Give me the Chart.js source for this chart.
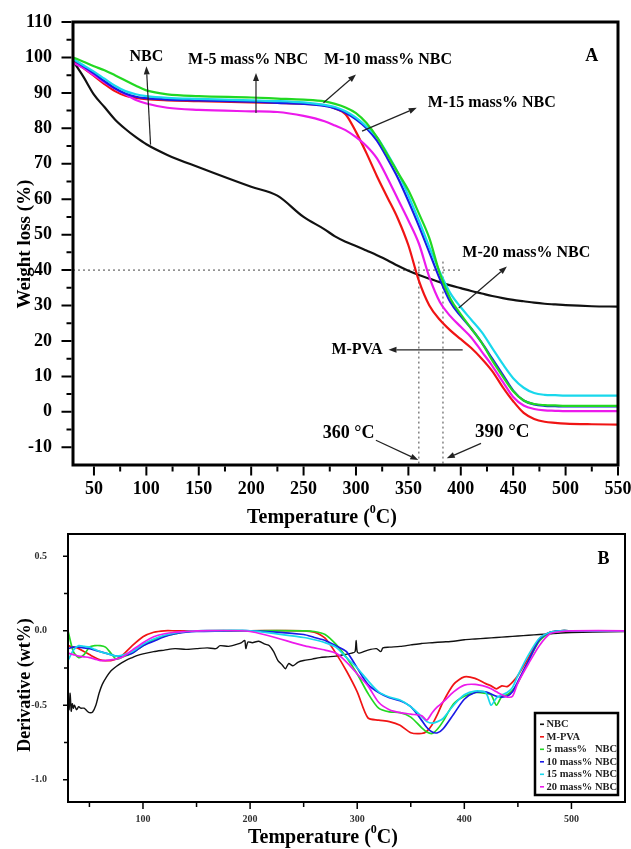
<!DOCTYPE html>
<html>
<head>
<meta charset="utf-8">
<title>TGA / DTG</title>
<script src="https://cdn.jsdelivr.net/npm/chart.js@4.4.1/dist/chart.umd.min.js"></script>
<style>
  body { margin: 0; background: #fff; }
  #wrap { position: relative; width: 631px; height: 849px; }
  canvas { position: absolute; left: 0; }
  #tga { top: 0; }
  #dtg { top: 520px; }
</style>
</head>
<body>
<div id="wrap">
  <canvas id="tga" width="631" height="530"></canvas>
  <canvas id="dtg" width="631" height="329"></canvas>
</div>
<script>
// ---- panel A: weight loss (%) vs temperature ----
var tgaTemps = [30, 40, 50, 60, 70, 80, 90, 100, 120, 150,
  200, 225, 250, 270, 280, 290, 300, 310, 320, 330,
  340, 350, 360, 370, 380, 390, 400, 410, 420, 430,
  440, 450, 460, 470, 480, 490, 500, 525, 550];

var nbcWeight = [99, 94.5, 89.5, 86, 82.5, 79.8, 77.5, 75.5, 72.5, 69,
  63.5, 61, 55, 51.5, 49.5, 48, 46.8, 45.5, 44.2, 42.8,
  41.2, 39.8, 38.6, 37.6, 36.6, 35.7, 34.9, 34.1, 33.4, 32.7,
  32.1, 31.6, 31.2, 30.8, 30.5, 30.3, 30.1, 29.8, 29.7];
var pvaWeight = [99, 97, 94.8, 92.5, 90.5, 89.2, 88.6, 88.2, 87.9, 87.7,
  87.3, 87.2, 86.9, 86.5, 85.6, 84, 79, 73, 66.5, 60.5,
  54.5, 47, 37, 30, 26, 23, 20.5, 18, 15, 11.5,
  7, 3, -0.3, -2, -2.8, -3.1, -3.3, -3.5, -3.6];
var m5Weight = [100, 98.8, 97.5, 96.4, 95, 93.5, 92, 90.7, 89.6, 89.1,
  88.7, 88.4, 88.1, 87.6, 86.9, 85.9, 84.3, 81.5, 77.5, 72.5,
  67.5, 62.5, 56, 49, 39, 32, 27.5, 23.5, 19.5, 14.5,
  10, 5.8, 3.2, 2.2, 1.9, 1.8, 1.7, 1.7, 1.7];
var m10Weight = [99.4, 97.5, 95.5, 93.3, 91.3, 89.8, 88.9, 88.5, 88.1, 87.9,
  87.5, 87.2, 86.9, 86.3, 85.6, 84.4, 82.5, 80, 76.5, 71.5,
  66, 59.5, 52.5, 45, 37.5, 31, 27, 23.5, 19.5, 15,
  10.5, 6, 3.2, 2.1, 1.7, 1.6, 1.5, 1.5, 1.5];
var m15Weight = [99.6, 97.8, 96, 94, 92, 90.5, 89.6, 89.1, 88.6, 88.3,
  87.9, 87.7, 87.3, 86.6, 86, 84.8, 83, 80.5, 77.5, 72.8,
  67.5, 61, 54, 46.5, 39.5, 33.5, 29.5, 26, 22.5, 18,
  13.5, 9.5, 6.8, 5.3, 4.8, 4.7, 4.6, 4.6, 4.6];
var m20Weight = [98.5, 97, 95, 93, 91.2, 89.6, 88, 87, 85.8, 85.2,
  84.8, 84.6, 83.5, 82, 80.8, 79.5, 77.5, 75, 71.5, 66,
  60, 54, 47.5, 38, 31, 27, 24, 21, 17, 13,
  8.5, 4.2, 1.8, 0.8, 0.4, 0.3, 0.2, 0.2, 0.2];

// dotted guides at 40 % and at the two onset temperatures
var guideWeight = 40;
var guideTemps = [360, 383];

var tempTicksA = [50, 100, 150, 200, 250, 300, 350, 400, 450, 500, 550];
var weightTicks = [-10, 0, 10, 20, 30, 40, 50, 60, 70, 80, 90, 100, 110];

// ---- panel B: derivative (wt%) vs temperature ----
var nbcDtgTemps = [30, 31, 32, 33, 34, 35, 36, 38, 40, 42,
  45, 48, 50, 53, 56, 59, 62, 66, 70, 75,
  80, 85, 90, 95, 100, 110, 120, 130, 140, 150,
  160, 168, 172, 180, 188, 192, 195, 196, 198, 202,
  208, 214, 218, 222, 226, 230, 233, 236, 240, 245,
  250, 258, 265, 272, 280, 288, 295, 298, 299, 300,
  302, 310, 318, 322, 324, 330, 340, 350, 360, 370,
  380, 390, 400, 410, 420, 430, 440, 450, 460, 470,
  480, 490, 500, 520, 550];
var nbcDtg = [-0.45, -0.53, -0.42, -0.54, -0.49, -0.52, -0.50, -0.53, -0.51, -0.52,
  -0.52, -0.54, -0.55, -0.545, -0.5, -0.42, -0.36, -0.31, -0.27, -0.24,
  -0.215, -0.195, -0.18, -0.165, -0.155, -0.14, -0.13, -0.12, -0.125, -0.12,
  -0.115, -0.12, -0.1, -0.105, -0.09, -0.08, -0.065, -0.12, -0.075, -0.08,
  -0.07, -0.09, -0.1, -0.14, -0.2, -0.23, -0.255, -0.22, -0.235, -0.21,
  -0.2, -0.19, -0.18, -0.175, -0.17, -0.16, -0.15, -0.14, -0.065, -0.14,
  -0.15, -0.13, -0.12, -0.14, -0.115, -0.11, -0.105, -0.095, -0.085, -0.08,
  -0.075, -0.07, -0.06, -0.055, -0.05, -0.045, -0.04, -0.035, -0.03, -0.025,
  -0.02, -0.015, -0.012, -0.008, -0.005];

var dtgTemps = [30, 35, 40, 45, 50, 55, 60, 65, 70, 75,
  80, 90, 100, 110, 120, 130, 140, 150, 200, 250,
  260, 270, 280, 290, 300, 310, 320, 330, 340, 350,
  360, 365, 370, 375, 380, 390, 400, 410, 420, 425,
  430, 435, 440, 445, 450, 460, 470, 480, 490, 500,
  550];
var pvaDtg = [-0.10, -0.11, -0.12, -0.14, -0.16, -0.18, -0.195, -0.2, -0.2, -0.19,
  -0.17, -0.1, -0.04, -0.01, 0, 0, 0, 0, 0, 0,
  -0.01, -0.05, -0.15, -0.27, -0.41, -0.585, -0.6, -0.61, -0.635, -0.685,
  -0.69, -0.675, -0.63, -0.56, -0.48, -0.36, -0.31, -0.32, -0.355, -0.37,
  -0.39, -0.37, -0.375, -0.345, -0.3, -0.18, -0.055, -0.01, 0, 0,
  0];
var m5Dtg = [0.0, -0.14, -0.18, -0.16, -0.11, -0.1, -0.1, -0.11, -0.15, -0.19,
  -0.18, -0.15, -0.1, -0.06, -0.035, -0.02, -0.005, 0, 0, 0,
  -0.005, -0.025, -0.09, -0.18, -0.29, -0.42, -0.52, -0.545, -0.55, -0.58,
  -0.65, -0.68, -0.69, -0.66, -0.61, -0.49, -0.44, -0.415, -0.42, -0.43,
  -0.5, -0.44, -0.43, -0.4, -0.35, -0.2, -0.07, -0.015, 0, 0,
  0];
var m10Dtg = [-0.12, -0.11, -0.11, -0.115, -0.12, -0.13, -0.14, -0.15, -0.16, -0.17,
  -0.17, -0.15, -0.1, -0.07, -0.04, -0.02, -0.01, -0.005, 0, -0.025,
  -0.045, -0.065, -0.1, -0.14, -0.25, -0.36, -0.415, -0.45, -0.47, -0.51,
  -0.6, -0.65, -0.68, -0.685, -0.66, -0.56, -0.46, -0.415, -0.41, -0.425,
  -0.44, -0.445, -0.44, -0.41, -0.34, -0.2, -0.06, -0.01, 0, 0,
  0];
var m15Dtg = [-0.2, -0.13, -0.1, -0.105, -0.11, -0.125, -0.14, -0.15, -0.16, -0.17,
  -0.165, -0.14, -0.09, -0.055, -0.03, -0.015, -0.005, 0, 0, -0.045,
  -0.06, -0.08, -0.11, -0.18, -0.25, -0.335, -0.41, -0.445, -0.465, -0.51,
  -0.575, -0.61, -0.62, -0.61, -0.59, -0.5, -0.43, -0.405, -0.415, -0.5,
  -0.45, -0.43, -0.415, -0.38, -0.3, -0.16, -0.05, -0.01, 0, 0,
  0];
var m20Dtg = [-0.15, -0.16, -0.17, -0.175, -0.18, -0.19, -0.2, -0.2, -0.195, -0.19,
  -0.18, -0.13, -0.08, -0.04, -0.02, -0.01, -0.005, 0, -0.005, -0.1,
  -0.115, -0.13, -0.15, -0.21, -0.29, -0.37, -0.48, -0.53, -0.55, -0.56,
  -0.57, -0.6, -0.55, -0.51, -0.48, -0.41, -0.365, -0.36, -0.375, -0.39,
  -0.41, -0.43, -0.445, -0.44, -0.35, -0.22, -0.1, -0.02, -0.005, 0,
  0];

var tempTicksB = [100, 200, 300, 400, 500];
var derivTicks = [-1.0, -0.5, 0.0, 0.5];

// labels and arrows placed in data units on panel A
var notesA = [
  { text: 'NBC', x: 100, y: 100.3 },
  { text: 'M-5 mass% NBC', x: 197, y: 99.4 },
  { text: 'M-10 mass% NBC', x: 330.5, y: 99.4 },
  { text: 'M-15 mass% NBC', x: 429.5, y: 87.2 },
  { text: 'M-20 mass% NBC', x: 462.5, y: 44.8 },
  { text: 'M-PVA', x: 301, y: 17.5 },
  { text: '360 °C', x: 293, y: -6, size: 18 },
  { text: '390 °C', x: 439.5, y: -5.6, size: 19 },
  { text: 'A', x: 525, y: 100.3, size: 18 }
];
var arrowsA = [
  { from: [104, 75.4], to: [100, 97.5] },
  { from: [204.6, 84.3], to: [204.6, 95.6] },
  { from: [269, 87.2], to: [300, 95.2] },
  { from: [305.8, 79.2], to: [358, 85.8] },
  { from: [398, 29.3], to: [444, 41] },
  { from: [401.8, 17.5], to: [331, 17.5] },
  { from: [319, -8], to: [359.5, -13.6] },
  { from: [419.3, -8.9], to: [386.6, -13.1] }
];
var notesB = [{ text: 'B', x: 530, y: 0.48, size: 18 }];

var SERIF = "'Liberation Serif', 'Times New Roman', serif";
var C_BLACK = '#111', C_RED = '#f01414', C_GREEN = '#22d822',
    C_BLUE = '#1a1ae6', C_CYAN = '#18d8ec', C_MAGENTA = '#ec1aec';

Chart.defaults.font.family = SERIF;
Chart.defaults.font.weight = 'bold';
Chart.defaults.color = '#000';

function font(size) { return 'bold ' + size + 'px ' + SERIF; }

function pts(xs, ys) {
  return xs.map(function (x, i) { return { x: x, y: ys[i] }; });
}

function midpoints(list, step) {
  return list.slice(0, -1).map(function (v) { return v + step; });
}

function drawArrow(ctx, x1, y1, x2, y2) {
  var ang = Math.atan2(y2 - y1, x2 - x1), len = 8, half = 3;
  var bx = x2 - len * Math.cos(ang), by = y2 - len * Math.sin(ang);
  ctx.beginPath();
  ctx.moveTo(x1, y1);
  ctx.lineTo(bx, by);
  ctx.stroke();
  ctx.beginPath();
  ctx.moveTo(x2, y2);
  ctx.lineTo(bx + half * Math.sin(ang), by - half * Math.cos(ang));
  ctx.lineTo(bx - half * Math.sin(ang), by + half * Math.cos(ang));
  ctx.closePath();
  ctx.fill();
}

// text with optional superscript pieces, centred on (cx, cy)
function drawParts(ctx, parts, cx, cy, size, vertical) {
  ctx.save();
  ctx.translate(cx, cy);
  if (vertical) ctx.rotate(-Math.PI / 2);
  ctx.textAlign = 'left';
  ctx.textBaseline = 'middle';
  var widths = parts.map(function (p) {
    ctx.font = font(p[1] ? size * 0.6 : size);
    return ctx.measureText(p[0]).width;
  });
  var x = -widths.reduce(function (a, b) { return a + b; }, 0) / 2;
  parts.forEach(function (p, i) {
    ctx.font = font(p[1] ? size * 0.6 : size);
    ctx.fillText(p[0], x, p[1] ? -size * 0.38 : 0);
    x += widths[i];
  });
  ctx.restore();
}

// frame, tick marks, axis titles, notes and (optionally) an inset legend
function panelPlugin(cfg) {
  return {
    id: 'panel',
    afterDraw: function (chart) {
      var ctx = chart.ctx, a = chart.chartArea;
      var sx = chart.scales.x, sy = chart.scales.y;
      var h = cfg.frame / 2;
      ctx.save();
      ctx.strokeStyle = '#000';
      ctx.fillStyle = '#000';
      ctx.lineWidth = cfg.frame;
      ctx.strokeRect(a.left, a.top, a.right - a.left, a.bottom - a.top);

      ctx.lineWidth = cfg.tickWidth;
      ctx.beginPath();
      cfg.xTicks.major.concat(cfg.xTicks.minor).forEach(function (v) {
        var len = cfg.xTicks.major.indexOf(v) >= 0 ? cfg.xTicks.majorLen : cfg.xTicks.minorLen;
        var p = sx.getPixelForValue(v);
        ctx.moveTo(p, a.bottom + h);
        ctx.lineTo(p, a.bottom + h + len);
      });
      cfg.yTicks.major.concat(cfg.yTicks.minor).forEach(function (v) {
        var len = cfg.yTicks.major.indexOf(v) >= 0 ? cfg.yTicks.majorLen : cfg.yTicks.minorLen;
        var p = sy.getPixelForValue(v);
        ctx.moveTo(a.left - h, p);
        ctx.lineTo(a.left - h - len, p);
      });
      ctx.stroke();

      drawParts(ctx, cfg.xTitle.parts, cfg.xTitle.x, cfg.xTitle.y, cfg.xTitle.size, false);
      drawParts(ctx, cfg.yTitle.parts, cfg.yTitle.x, cfg.yTitle.y, cfg.yTitle.size, true);

      ctx.textAlign = 'center';
      ctx.textBaseline = 'middle';
      cfg.notes.forEach(function (n) {
        ctx.font = font(n.size || cfg.noteSize);
        ctx.fillText(n.text, sx.getPixelForValue(n.x), sy.getPixelForValue(n.y));
      });
      ctx.strokeStyle = '#222';
      ctx.fillStyle = '#222';
      ctx.lineWidth = 1.2;
      (cfg.arrows || []).forEach(function (r) {
        drawArrow(ctx, sx.getPixelForValue(r.from[0]), sy.getPixelForValue(r.from[1]),
          sx.getPixelForValue(r.to[0]), sy.getPixelForValue(r.to[1]));
      });

      if (cfg.legend) {
        var L = cfg.legend;
        var bx = a.right - L.right - L.w, by = a.bottom - L.bottom - L.h;
        ctx.strokeStyle = '#000';
        ctx.lineWidth = 2.5;
        ctx.strokeRect(bx, by, L.w, L.h);
        ctx.font = font(L.size);
        ctx.textAlign = 'left';
        var row = 0;
        chart.data.datasets.forEach(function (ds) {
          if (!ds.label) return;
          var y = by + L.first + row * L.step;
          ctx.strokeStyle = ds.borderColor;
          ctx.lineWidth = 1.6;
          ctx.beginPath();
          ctx.moveTo(bx + 5, y);
          ctx.lineTo(bx + 9, y);
          ctx.stroke();
          ctx.fillStyle = '#222';
          ctx.fillText(ds.label, bx + 11.5, y);
          row++;
        });
      }
      ctx.restore();
    }
  };
}

function line(label, xs, ys, color, width, order, smooth) {
  return {
    label: label,
    data: pts(xs, ys),
    borderColor: color,
    borderWidth: width,
    pointRadius: 0,
    fill: false,
    order: order,
    tension: smooth ? 0 : 0.25,
    cubicInterpolationMode: smooth ? 'monotone' : 'default'
  };
}

function guide(points) {
  return {
    label: '',
    data: points,
    borderColor: '#444',
    borderWidth: 1,
    borderDash: [2, 3],
    pointRadius: 0,
    fill: false,
    order: 9
  };
}

function fixedTicks(values) {
  return function (scale) {
    scale.ticks = values.map(function (v) { return { value: v }; });
  };
}

// ---------- panel A ----------
new Chart(document.getElementById('tga'), {
  type: 'line',
  data: {
    datasets: [
      guide([{ x: 30, y: guideWeight }, { x: 401, y: guideWeight }]),
      guide([{ x: guideTemps[0], y: 42.4 }, { x: guideTemps[0], y: -15 }]),
      guide([{ x: guideTemps[1], y: 42.4 }, { x: guideTemps[1], y: -15 }]),
      line('NBC', tgaTemps, nbcWeight, C_BLACK, 2.2, 6, true),
      line('M-PVA', tgaTemps, pvaWeight, C_RED, 2.2, 5, true),
      line('M-5 mass% NBC', tgaTemps, m5Weight, C_GREEN, 2.2, 1, true),
      line('M-10 mass% NBC', tgaTemps, m10Weight, C_BLUE, 2.2, 3, true),
      line('M-15 mass% NBC', tgaTemps, m15Weight, C_CYAN, 2.2, 2, true),
      line('M-20 mass% NBC', tgaTemps, m20Weight, C_MAGENTA, 2.2, 4, true)
    ]
  },
  options: {
    responsive: false,
    devicePixelRatio: 1,
    animation: false,
    events: [],
    layout: { padding: { left: 0, right: 13, top: 22, bottom: 0 } },
    plugins: { legend: { display: false }, tooltip: { enabled: false } },
    scales: {
      x: {
        type: 'linear', min: 30, max: 550,
        grid: { display: false }, border: { display: false },
        afterBuildTicks: fixedTicks(tempTicksA),
        ticks: { font: { size: 18, weight: 'bold' }, color: '#000', padding: 6, maxRotation: 0, autoSkip: false },
        afterFit: function (s) { s.height = 65; s.paddingLeft = 0; s.paddingRight = 0; }
      },
      y: {
        type: 'linear', min: -15, max: 110,
        grid: { display: false }, border: { display: false },
        afterBuildTicks: fixedTicks(weightTicks),
        ticks: { font: { size: 18, weight: 'bold' }, color: '#000', padding: 13, autoSkip: false },
        afterFit: function (s) { s.width = 73; s.paddingTop = 0; s.paddingBottom = 0; }
      }
    }
  },
  plugins: [panelPlugin({
    frame: 3,
    tickWidth: 2,
    xTicks: { major: tempTicksA, minor: midpoints(tempTicksA, 25), majorLen: 9, minorLen: 5 },
    yTicks: { major: weightTicks, minor: midpoints(weightTicks, 5), majorLen: 10, minorLen: 5 },
    xTitle: { parts: [['Temperature (', false], ['0', true], ['C)', false]], x: 322, y: 518, size: 20 },
    yTitle: { parts: [['Weight loss (%)', false]], x: 25, y: 244, size: 19 },
    notes: notesA,
    arrows: arrowsA,
    noteSize: 16
  })]
});

// ---------- panel B ----------
new Chart(document.getElementById('dtg'), {
  type: 'line',
  data: {
    datasets: [
      line('NBC', nbcDtgTemps, nbcDtg, C_BLACK, 1.4, 7, false),
      line('M-PVA', dtgTemps, pvaDtg, C_RED, 1.7, 6, false),
      line('5 mass%   NBC', dtgTemps, m5Dtg, C_GREEN, 1.7, 5, false),
      line('10 mass% NBC', dtgTemps, m10Dtg, C_BLUE, 1.7, 4, false),
      line('15 mass% NBC', dtgTemps, m15Dtg, C_CYAN, 1.7, 3, false),
      line('20 mass% NBC', dtgTemps, m20Dtg, C_MAGENTA, 1.7, 2, false)
    ]
  },
  options: {
    responsive: false,
    devicePixelRatio: 1,
    animation: false,
    events: [],
    layout: { padding: { left: 0, right: 6, top: 14, bottom: 0 } },
    plugins: { legend: { display: false }, tooltip: { enabled: false } },
    scales: {
      x: {
        type: 'linear', min: 30, max: 550,
        grid: { display: false }, border: { display: false },
        afterBuildTicks: fixedTicks(tempTicksB),
        ticks: { font: { size: 10, weight: 'bold' }, color: '#333', padding: 3, maxRotation: 0, autoSkip: false },
        afterFit: function (s) { s.height = 47; s.paddingLeft = 0; s.paddingRight = 0; }
      },
      y: {
        type: 'linear', min: -1.15, max: 0.65,
        grid: { display: false }, border: { display: false },
        afterBuildTicks: fixedTicks(derivTicks),
        ticks: {
          font: { size: 10, weight: 'bold' }, color: '#333', padding: 13, autoSkip: false,
          callback: function (v) { return Number(v).toFixed(1); }
        },
        afterFit: function (s) { s.width = 68; s.paddingTop = 0; s.paddingBottom = 0; }
      }
    }
  },
  plugins: [panelPlugin({
    frame: 2,
    tickWidth: 1.5,
    xTicks: { major: tempTicksB, minor: [50].concat(midpoints(tempTicksB, 50)), majorLen: 6, minorLen: 4 },
    yTicks: { major: derivTicks, minor: midpoints(derivTicks, 0.25), majorLen: 4, minorLen: 3 },
    xTitle: { parts: [['Temperature (', false], ['0', true], ['C)', false]], x: 323, y: 318, size: 20 },
    yTitle: { parts: [['Derivative (wt%)', false]], x: 25, y: 165, size: 18 },
    notes: notesB,
    noteSize: 18,
    legend: { right: 7, bottom: 7, w: 83, h: 82, first: 11.3, step: 12.5, size: 10.5 }
  })]
});
</script>
</body>
</html>
